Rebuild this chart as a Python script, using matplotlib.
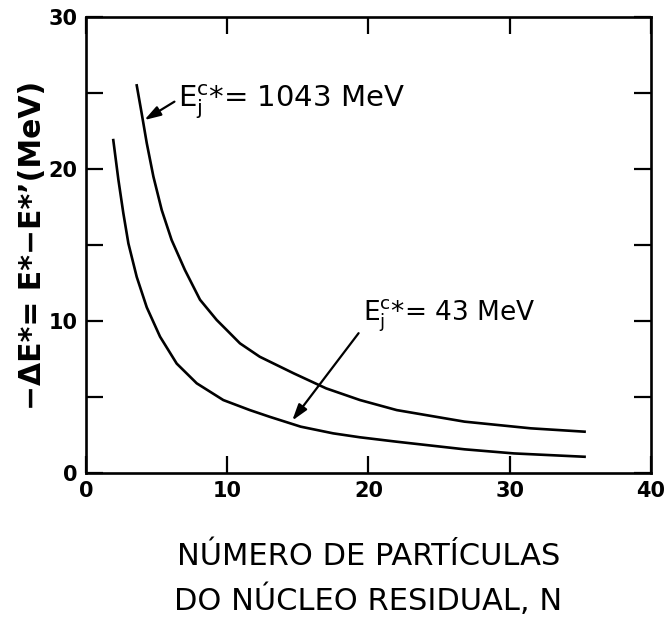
import matplotlib
matplotlib.use("Agg")
import matplotlib.pyplot as plt
from matplotlib.ticker import MultipleLocator

# Excitation energy loss vs. residual nucleus size, for two channel energies
n_1043 = [3.59, 3.94, 4.30, 4.77, 5.36, 6.06, 7.0, 8.07, 9.25, 9.96, 10.9,
          12.3, 14.7, 17.0, 19.4, 22.0, 26.8, 31.5, 35.3]
de_1043 = [25.5, 23.66, 21.7, 19.5, 17.3, 15.33, 13.36, 11.4, 10.07, 9.41, 8.53,
           7.65, 6.56, 5.57, 4.8, 4.14, 3.38, 2.94, 2.72]

n_43 = [1.93, 2.29, 2.64, 3.0, 3.59, 4.30, 5.24, 6.42, 7.84, 9.72, 11.6,
        13.0, 15.2, 17.5, 19.4, 22.0, 26.8, 30.3, 35.3]
de_43 = [21.9, 19.3, 17.1, 15.1, 12.9, 10.9, 8.97, 7.2, 5.9, 4.8, 4.14,
         3.7, 3.05, 2.61, 2.35, 2.06, 1.56, 1.29, 1.07]

x_ticks = [0, 10, 20, 30, 40]
y_ticks = [0, 10, 20, 30]

label_1043 = r"$\mathrm{E}_{\mathrm{j}}^{\mathrm{c}}$*= 1043 MeV"
label_43 = r"$\mathrm{E}_{\mathrm{j}}^{\mathrm{c}}$*= 43 MeV"

plt.rcParams["font.family"] = ["DejaVu Sans"]
plt.rcParams["mathtext.fontset"] = "dejavusans"

fig = plt.figure(figsize=(6.69, 6.22), dpi=100)
ax = fig.add_axes([0.1286, 0.2395, 0.8444, 0.7332])

ax.plot(n_1043, de_1043, color="black", lw=1.9, solid_joinstyle="round")
ax.plot(n_43, de_43, color="black", lw=1.9, solid_joinstyle="round")

ax.set_xlim(0, 40)
ax.set_ylim(0, 30)
ax.set_xticks(x_ticks)
ax.set_yticks(y_ticks)
ax.yaxis.set_minor_locator(MultipleLocator(5))
ax.tick_params(which="both", direction="in", length=12, width=1.6,
               top=True, right=True)
ax.tick_params(axis="both", labelsize=15, pad=6)
for lab in ax.get_xticklabels() + ax.get_yticklabels():
    lab.set_fontweight("bold")
for sp in ax.spines.values():
    sp.set_linewidth(1.9)

arrow = dict(arrowstyle="-|>,head_length=0.7,head_width=0.22", color="black",
             lw=1.6, mutation_scale=14, shrinkA=0, shrinkB=0)

# upper curve label
ax.text(6.5, 24.05, label_1043, fontsize=21, va="baseline", ha="left")
ax.annotate("", xy=(4.13, 23.22), xytext=(6.26, 24.43), arrowprops=arrow)

# lower curve label
ax.text(19.6, 10.05, label_43, fontsize=19, va="baseline", ha="left")
ax.annotate("", xy=(14.6, 3.45), xytext=(19.3, 9.2), arrowprops=arrow)

ax.set_ylabel("−ΔE*= E*−E*’(MeV)", fontsize=21.5, fontweight="bold", labelpad=1)
ax.set_xlabel("NÚMERO DE PARTÍCULAS\nDO NÚCLEO RESIDUAL, N",
              fontsize=22, linespacing=1.5, labelpad=29)

fig.savefig("out.png", dpi=100)
